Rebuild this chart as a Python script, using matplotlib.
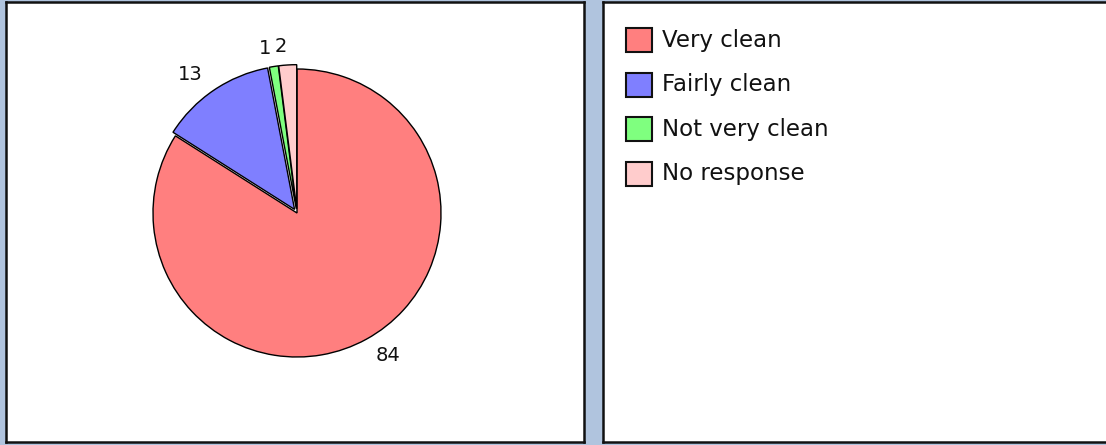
import matplotlib
matplotlib.use("Agg")
import matplotlib.pyplot as plt
from matplotlib.patches import Rectangle

categories = ["Very clean", "Fairly clean", "Not very clean", "No response"]
values = [84, 13, 1, 2]
colors = ["#ff7f7f", "#7f7fff", "#7fff7f", "#ffcccc"]
explode = [0.0, 0.03, 0.03, 0.03]

W, H = 1106, 445
fig = plt.figure(figsize=(W / 100, H / 100), dpi=100)
fig.patch.set_facecolor("#b0c4de")
plt.rcParams['font.family'] = ['DejaVu Sans']

def fbox(x0, y0, x1, y1):
    return [x0 / W, 1 - y1 / H, (x1 - x0) / W, (y1 - y0) / H]

# left panel
axL = fig.add_axes(fbox(6, 2, 584, 442))
axL.set_facecolor("white")
axL.set_xticks([]); axL.set_yticks([])
for s in axL.spines.values():
    s.set_linewidth(1.8); s.set_color("#111111")

# right panel
axR = fig.add_axes(fbox(603, 2, 1112, 442))
axR.set_facecolor("white")
axR.set_xticks([]); axR.set_yticks([])
for s in axR.spines.values():
    s.set_linewidth(1.8); s.set_color("#111111")
axR.set_xlim(603, 1112)
axR.set_ylim(442, 2)

# pie
cx, cy, r = 297, 213, 144
half = r * 1.3
axP = fig.add_axes(fbox(cx - half, cy - half, cx + half, cy + half))
axP.set_aspect("equal")
axP.axis("off")
wedges, texts = axP.pie(values, colors=colors, explode=explode,
                        labels=[str(v) for v in values], labeldistance=1.13,
                        startangle=90, counterclock=False,
                        wedgeprops=dict(edgecolor="black", linewidth=1.0),
                        textprops=dict(fontsize=14, color="#111111"))
axP.set_xlim(-1.3, 1.3); axP.set_ylim(-1.3, 1.3)

# legend
row_y = [40, 84.5, 129, 173.5]
for i, (cat, col) in enumerate(zip(categories, colors)):
    y = row_y[i]
    axR.add_patch(Rectangle((626, y - 12), 26, 24, facecolor=col,
                            edgecolor="#111111", linewidth=1.5))
    axR.text(662, y, cat, fontsize=16.5, va="center", ha="left",
             color="#111111")

fig.savefig("out.png", dpi=100, facecolor=fig.get_facecolor())
